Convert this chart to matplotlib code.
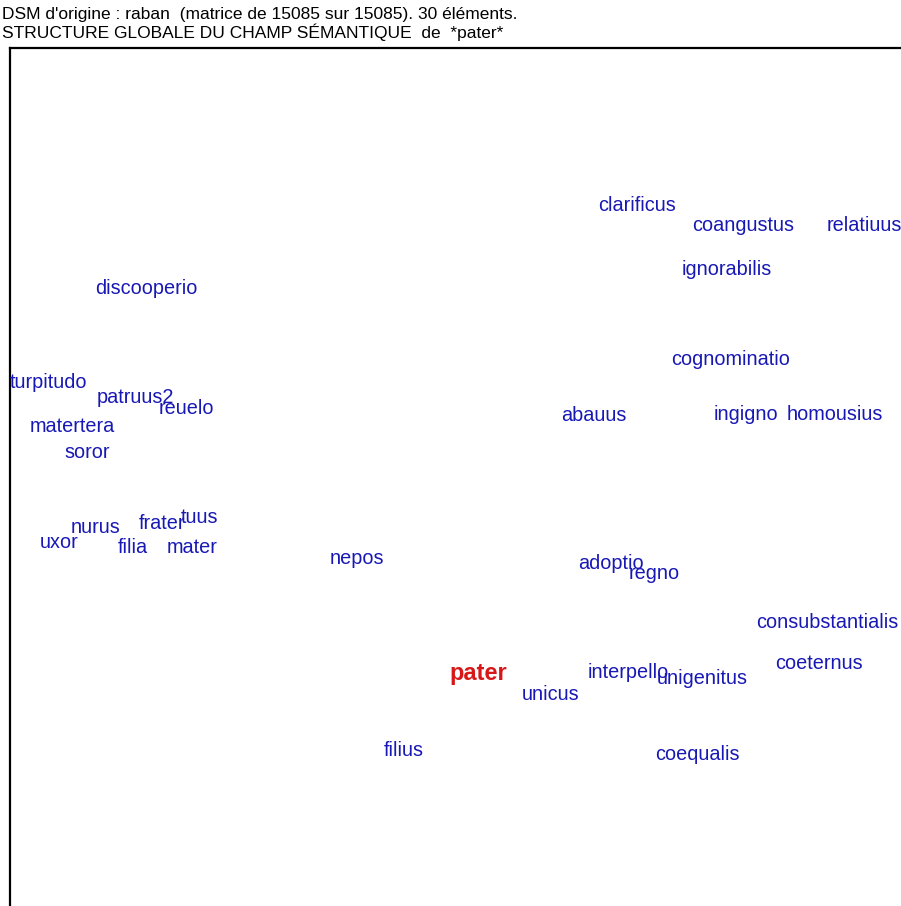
import matplotlib.pyplot as plt

plt.rcParams['font.family'] = ['Liberation Sans', 'DejaVu Sans']

# mots et positions estimées (x à gauche du mot, y au centre), repère de la carte
mots = ['clarificus', 'coangustus', 'relatiuus', 'ignorabilis', 'discooperio',
        'cognominatio', 'turpitudo', 'patruus2', 'reuelo', 'matertera',
        'abauus', 'ingigno', 'homousius', 'soror', 'nurus', 'frater', 'tuus',
        'uxor', 'filia', 'mater', 'nepos', 'adoptio', 'regno',
        'consubstantialis', 'coeternus', 'interpello', 'unigenitus',
        'unicus', 'filius', 'coequalis']
pos_x = [598, 692, 827, 682, 95, 671, 10, 97, 159, 30, 561, 714, 787, 64,
         71, 139, 181, 40, 118, 167, 330, 578, 629, 756, 775, 588, 657,
         522, 384, 655]
pos_y = [204, 224, 224, 268, 287, 358, 381, 396, 407, 425, 414, 413, 413,
         451, 526, 522, 516, 541, 546, 546, 557, 562, 572, 621, 662, 671,
         677, 693, 749, 753]

pivot = 'pater'
pivot_x, pivot_y = 449, 672

titre1 = "DSM d'origine : raban  (matrice de 15085 sur 15085). 30 éléments."
titre2 = "STRUCTURE GLOBALE DU CHAMP SÉMANTIQUE  de  *pater*"

fig = plt.figure(figsize=(9.01, 9.06), dpi=100)
ax = fig.add_axes([10 / 901, 0, 1 - 10 / 901, 1 - 48 / 906])
ax.set_xlim(10, 901)
ax.set_ylim(906, 48)
ax.set_xticks([])
ax.set_yticks([])
ax.spines['right'].set_visible(False)
ax.spines['bottom'].set_visible(False)
ax.spines['left'].set_linewidth(1.6)
ax.spines['top'].set_linewidth(1.6)

for m, x, y in zip(mots, pos_x, pos_y):
    ax.text(x, y + 2, m, color='#1818b4', fontsize=14.3, ha='left',
            va='center', clip_on=False)

ax.text(pivot_x, pivot_y + 2, pivot, color='#d81818', fontsize=17,
        fontweight='bold', ha='left', va='center')

fig.text(2 / 901, 1 - 15 / 906, titre1, fontsize=12.5, va='center', ha='left')
fig.text(2 / 901, 1 - 32 / 906, titre2, fontsize=12.5, va='center', ha='left')

fig.savefig('out.png', dpi=100)
